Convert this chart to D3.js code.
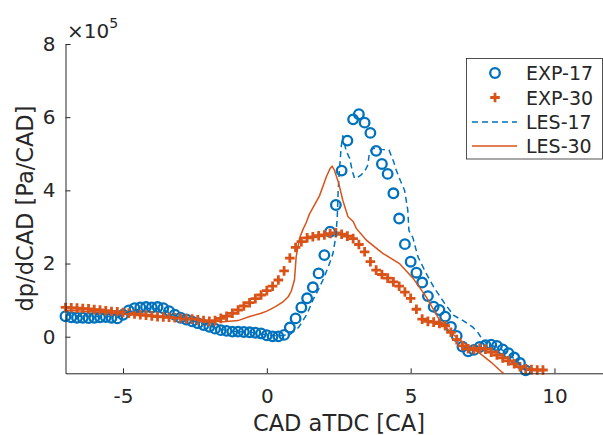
<!DOCTYPE html>
<html>
<head>
<meta charset="utf-8">
<script src="https://cdn.jsdelivr.net/npm/d3@7/dist/d3.min.js"></script>
<style>
  body { margin: 0; background: #fff; }
  text { font-family: "DejaVu Sans", sans-serif; fill: #262626; }
</style>
</head>
<body>
<div id="chart"></div>
<script>
// values in units of 1e5 Pa/CAD
var exp17X = [-7.0,-6.8,-6.6,-6.4,-6.2,-6.0,-5.8,-5.6,-5.4,-5.2,-5.0,-4.8,-4.6,-4.4,-4.2,-4.0,-3.8,-3.6,-3.4,-3.2,
  -3.0,-2.8,-2.6,-2.4,-2.2,-2.0,-1.8,-1.6,-1.4,-1.2,-1.0,-0.8,-0.6,-0.4,-0.2,0.0,0.2,0.4,0.6,0.8,
  1.0,1.2,1.4,1.6,1.8,2.0,2.2,2.4,2.6,2.8,3.0,3.2,3.4,3.6,3.8,4.0,4.2,4.4,4.6,4.8,
  5.0,5.2,5.4,5.6,5.8,6.0,6.2,6.4,6.6,6.8,7.0,7.2,7.4,7.6,7.8,8.0,8.2,8.4,8.6,8.8,9.0];
var exp17Y = [0.56,0.53,0.52,0.52,0.51,0.52,0.53,0.54,0.52,0.50,0.60,0.72,0.78,0.80,0.81,0.80,0.81,0.78,0.70,0.60,
  0.52,0.47,0.42,0.37,0.32,0.27,0.22,0.18,0.16,0.14,0.14,0.13,0.12,0.11,0.09,0.04,0.01,0.01,0.05,0.25,
  0.50,0.80,1.05,1.35,1.73,2.23,2.87,3.60,4.54,5.36,5.94,6.08,5.85,5.57,5.08,4.72,4.45,3.92,3.23,2.53,
  2.05,1.75,1.48,1.11,0.82,0.73,0.55,0.27,0.02,-0.27,-0.40,-0.36,-0.28,-0.23,-0.22,-0.25,-0.35,-0.45,-0.57,-0.72,-0.92];

var exp30X = [-7.0,-6.8,-6.6,-6.4,-6.2,-6.0,-5.8,-5.6,-5.4,-5.2,-5.0,-4.8,-4.6,-4.4,-4.2,-4.0,-3.8,-3.6,-3.4,-3.2,
  -3.0,-2.8,-2.6,-2.4,-2.2,-2.0,-1.8,-1.6,-1.4,-1.2,-1.0,-0.8,-0.6,-0.4,-0.2,0.0,0.2,0.4,0.6,0.8,
  1.0,1.2,1.4,1.6,1.8,2.0,2.2,2.4,2.6,2.8,3.0,3.2,3.4,3.6,3.8,4.0,4.2,4.4,4.6,4.8,
  5.0,5.2,5.4,5.6,5.8,6.0,6.2,6.4,6.6,6.8,7.0,7.2,7.4,7.6,7.8,8.0,8.2,8.4,8.6,8.8,9.0,9.2,9.4,9.6];
var exp30Y = [0.80,0.79,0.78,0.77,0.76,0.74,0.73,0.71,0.69,0.68,0.66,0.64,0.62,0.60,0.59,0.57,0.55,0.54,0.53,0.52,
  0.51,0.49,0.48,0.46,0.44,0.42,0.44,0.50,0.56,0.64,0.73,0.84,0.93,1.04,1.14,1.26,1.38,1.55,1.80,2.15,
  2.44,2.60,2.70,2.73,2.76,2.78,2.82,2.84,2.80,2.75,2.68,2.52,2.32,2.05,1.82,1.70,1.60,1.50,1.38,1.22,
  1.05,0.75,0.48,0.42,0.40,0.36,0.30,0.12,-0.08,-0.25,-0.33,-0.35,-0.32,-0.34,-0.42,-0.50,-0.58,-0.66,-0.74,-0.82,-0.88,-0.90,-0.91,-0.91];

var les17X = [-7.0,-6.5,-6.0,-5.5,-5.2,-4.8,-4.4,-4.0,-3.6,-3.2,-2.8,-2.4,-2.0,-1.6,-1.2,-0.8,-0.4,0.0,0.4,0.8,
  1.1,1.4,1.6,1.8,2.0,2.2,2.3,2.4,2.45,2.48,2.52,2.58,2.64,2.75,2.88,2.98,3.05,3.15,3.28,3.42,
  3.51,3.57,3.7,4.0,4.25,4.4,4.5,4.65,4.79,4.9,4.94,5.08,5.25,5.54,5.83,6.18,6.5,6.8,7.16,7.35,
  7.5,7.7,8.0,8.3,8.6,8.8,9.0];
var les17Y = [0.60,0.56,0.55,0.55,0.53,0.68,0.76,0.78,0.74,0.58,0.48,0.39,0.30,0.20,0.15,0.13,0.11,0.05,0.02,0.06,
  0.25,0.62,1.00,1.30,1.64,2.05,2.28,2.75,3.30,4.00,4.50,5.15,5.50,5.10,4.87,4.50,4.33,4.35,4.42,4.55,
  4.69,5.05,5.15,5.12,5.10,4.80,4.55,4.25,4.00,3.46,2.90,2.70,2.19,1.73,1.32,0.91,0.58,0.45,0.26,0.10,
  -0.09,-0.22,-0.28,-0.42,-0.60,-0.75,-0.92];

var les30X = [-7.0,-6.0,-5.0,-4.0,-3.0,-2.5,-2.0,-1.5,-1.0,-0.6,-0.2,0.0,0.3,0.56,0.75,0.85,0.96,1.02,1.14,1.25,
  1.37,1.48,1.6,1.83,2.07,2.2,2.27,2.35,2.5,2.64,2.82,3.0,3.11,3.46,4.03,4.61,5.08,5.54,6.0,6.35,
  6.7,7.1,7.4,7.8,8.09,8.3];
var les30Y = [0.72,0.68,0.62,0.56,0.50,0.47,0.43,0.41,0.44,0.55,0.64,0.70,0.82,0.95,1.10,1.25,1.55,2.19,2.70,2.92,
  3.12,3.35,3.52,3.85,4.37,4.60,4.66,4.55,4.19,3.73,3.28,3.15,2.96,2.64,2.28,2.00,1.60,1.09,0.46,0.15,
  -0.09,-0.30,-0.45,-0.70,-0.91,-1.05];

var xTicks = [-5, 0, 5, 10];
var yTicks = [0, 2, 4, 6, 8];
var seriesNames = ["EXP-17", "EXP-30", "LES-17", "LES-30"];
var blue = "#0072BD", orange = "#D95319";

var W = 603, H = 435;
var svg = d3.select("#chart").append("svg")
  .attr("width", W).attr("height", H);

var x = d3.scaleLinear().domain([-7, 12]).range([65.5, 612]);
var y = d3.scaleLinear().domain([-1, 8]).range([373.3, 44]);

svg.append("defs").append("clipPath").attr("id", "plotclip")
  .append("rect").attr("x", 65.5).attr("y", 44).attr("width", 546.5).attr("height", 329.3);

function zip(xs, ys){ return xs.map(function(v,i){ return [v, ys[i]]; }); }

var plot = svg.append("g");

// EXP-17 circles
plot.selectAll(".c17").data(zip(exp17X, exp17Y)).enter().append("circle")
  .attr("class", "c17")
  .attr("cx", function(d){ return x(d[0]); })
  .attr("cy", function(d){ return y(d[1]); })
  .attr("r", 4.8)
  .attr("fill", "none").attr("stroke", blue).attr("stroke-width", 2.3);

// EXP-30 plus signs
plot.selectAll(".p30").data(zip(exp30X, exp30Y)).enter().append("path")
  .attr("class", "p30")
  .attr("transform", function(d){ return "translate(" + x(d[0]) + "," + y(d[1]) + ")"; })
  .attr("d", "M-4.8,0H4.8M0,-4.8V4.8")
  .attr("stroke", orange).attr("stroke-width", 2.8).attr("fill", "none");

var line = d3.line().x(function(d){ return x(d[0]); }).y(function(d){ return y(d[1]); });

plot.append("path").datum(zip(les17X, les17Y))
  .attr("d", line).attr("clip-path", "url(#plotclip)")
  .attr("fill", "none").attr("stroke", blue).attr("stroke-width", 1.5)
  .attr("stroke-dasharray", "6,4");

plot.append("path").datum(zip(les30X, les30Y))
  .attr("d", line).attr("clip-path", "url(#plotclip)")
  .attr("fill", "none").attr("stroke", orange).attr("stroke-width", 1.5);

// axes, MATLAB style with inward ticks
var xAxis = svg.append("g").attr("class", "xAxis")
  .attr("transform", "translate(0," + y(-1) + ")")
  .call(d3.axisBottom(x).tickValues(xTicks).tickSize(-5).tickSizeOuter(0).tickPadding(16)
    .tickFormat(function(d){ return String(d); }));
var yAxis = svg.append("g").attr("class", "yAxis")
  .attr("transform", "translate(" + x(-7) + ",0)")
  .call(d3.axisLeft(y).tickValues(yTicks).tickSize(-5).tickSizeOuter(0).tickPadding(10)
    .tickFormat(function(d){ return String(d); }));

svg.selectAll(".xAxis path, .yAxis path, .xAxis line, .yAxis line").attr("stroke", "#262626");
svg.selectAll(".xAxis text, .yAxis text").attr("font-size", 20).attr("fill", "#262626")
  .style("font-family", "DejaVu Sans");

// exponent label
var ex = svg.append("text").attr("x", 67).attr("y", 38).attr("font-size", 20);
ex.append("tspan").text("\u00d710");
ex.append("tspan").attr("dy", -10).attr("font-size", 14).text("5");

svg.append("text").attr("x", 339).attr("y", 431).attr("text-anchor", "middle")
  .attr("font-size", 22.5).text("CAD aTDC [CA]");
svg.append("text").attr("transform", "translate(33," + 208.5 + ") rotate(-90)")
  .attr("text-anchor", "middle").attr("font-size", 22.5).text("dp/dCAD [Pa/CAD]");

// legend
var lg = svg.append("g");
lg.append("rect").attr("x", 466.5).attr("y", 58.5).attr("width", 136).attr("height", 100.5)
  .attr("fill", "#fff").attr("stroke", "#262626").attr("stroke-width", 0.8);
var rowY = [73, 97.5, 122, 146];
seriesNames.forEach(function(name, i){
  var g = lg.append("g").attr("transform", "translate(0," + rowY[i] + ")");
  if (i === 0) {
    g.append("circle").attr("cx", 495).attr("cy", 0).attr("r", 4.8)
      .attr("fill", "none").attr("stroke", blue).attr("stroke-width", 2.3);
  } else if (i === 1) {
    g.append("path").attr("transform", "translate(495,0)").attr("d", "M-4.8,0H4.8M0,-4.8V4.8")
      .attr("stroke", orange).attr("stroke-width", 2.8);
  } else {
    g.append("line").attr("x1", 472).attr("x2", 517).attr("y1", 0).attr("y2", 0)
      .attr("stroke", i === 2 ? blue : orange).attr("stroke-width", 1.5)
      .attr("stroke-dasharray", i === 2 ? "6,4" : null);
  }
  g.append("text").attr("x", 526).attr("y", 7).attr("font-size", 19).text(name);
});
</script>
</body>
</html>
